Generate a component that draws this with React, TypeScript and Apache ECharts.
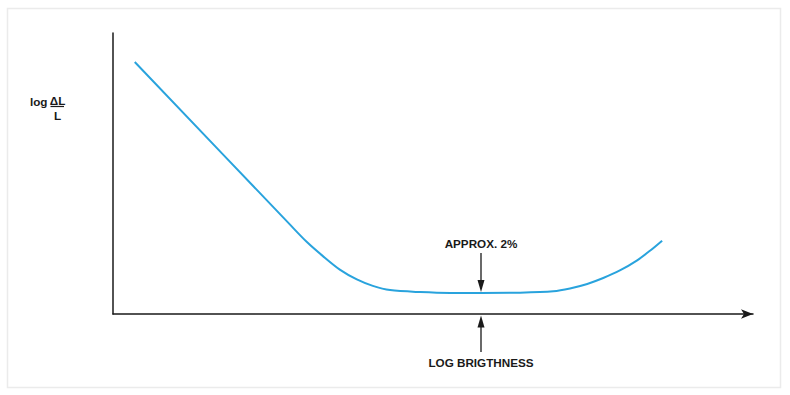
import React, { useEffect, useRef } from "react";
import * as echarts from "echarts";

// Curve (x: log brightness, y: log ΔL/L), arbitrary 0..100 units
const curveX = [3.4, 27.7, 30.3, 32.8, 35.5, 38.1, 40.6, 43.3, 48.0, 52.7, 57.5, 63.6, 68.8, 71.4, 74.1, 76.6, 79.2, 81.9, 83.9, 85.8];
const curveY = [89.7, 31.7, 25.6, 20.6, 15.7, 12.3, 10.0, 8.5, 7.8, 7.5, 7.5, 7.6, 8.1, 9.1, 10.7, 12.8, 15.5, 19.1, 22.5, 26.1];

const annotX = 57.5; // where both arrows point
const annotY = 7.5; // curve value at the minimum
const annotTopY = 21.7; // start of the "APPROX. 2%" arrow
const bottomArrowY = -13.5; // end of the lower arrow (below the axis)

const yLabelMain = "log";
const yLabelNum = "ΔL";
const yLabelDen = "L";
const minLabel = "APPROX. 2%";
const xLabel = "LOG BRIGTHNESS";

const FONT = "'Liberation Sans', Arial, Helvetica, sans-serif";
const INK = "#1a1a1a";

export default function App() {
  const ref = useRef<HTMLDivElement>(null);
  useEffect(() => {
    const chart = echarts.init(ref.current!, null, { renderer: "svg" });
    const data = curveX.map((x, i) => [x, curveY[i]]);
    chart.setOption({
      animation: false,
      grid: { left: 113, top: 33, right: 37, bottom: 81 },
      xAxis: {
        type: "value",
        min: 0,
        max: 100,
        axisLine: { show: true, symbol: ["none", "arrow"], symbolSize: [7, 12], lineStyle: { color: INK, width: 1.5 } },
        axisTick: { show: false },
        axisLabel: { show: false },
        splitLine: { show: false },
      },
      yAxis: {
        type: "value",
        min: 0,
        max: 100,
        axisLine: { show: true, lineStyle: { color: INK, width: 1.5 } },
        axisTick: { show: false },
        axisLabel: { show: false },
        splitLine: { show: false },
      },
      series: [
        {
          type: "line",
          data,
          smooth: 0.3,
          showSymbol: false,
          lineStyle: { color: "#29a3dd", width: 2 },
        },
      ],
    });

    const [ax, ay] = chart.convertToPixel({ gridIndex: 0 }, [annotX, annotY]) as number[];
    const [, aTop] = chart.convertToPixel({ gridIndex: 0 }, [annotX, annotTopY]) as number[];
    const [, axisY] = chart.convertToPixel({ gridIndex: 0 }, [annotX, 0]) as number[];
    const [, bBot] = chart.convertToPixel({ gridIndex: 0 }, [annotX, bottomArrowY]) as number[];
    const tipDown = ay - 1;
    const tipUp = axisY + 1.5;
    const textStyle = { fontFamily: FONT, fontWeight: "bold", fontSize: 11.7, fill: INK };

    chart.setOption({
      graphic: [
        { type: "rect", shape: { x: 7.5, y: 8.5, width: 773, height: 379 }, style: { fill: "none", stroke: "#ebebeb", lineWidth: 1.5 }, silent: true },
        // y-axis label log ΔL / L
        { type: "text", x: 47.5, y: 101, style: { ...textStyle, text: yLabelMain, align: "right", verticalAlign: "middle" } },
        { type: "text", x: 57.5, y: 100, style: { ...textStyle, text: yLabelNum, align: "center", verticalAlign: "middle" } },
        { type: "line", shape: { x1: 50.5, y1: 106.5, x2: 64, y2: 106.5 }, style: { stroke: INK, lineWidth: 1.2 } },
        { type: "text", x: 57.5, y: 115, style: { ...textStyle, text: yLabelDen, align: "center", verticalAlign: "middle" } },
        // APPROX. 2% arrow
        { type: "text", x: ax, y: 243.5, style: { ...textStyle, text: minLabel, align: "center", verticalAlign: "middle" } },
        { type: "line", shape: { x1: ax, y1: aTop, x2: ax, y2: tipDown - 8 }, style: { stroke: INK, lineWidth: 1.3 } },
        { type: "polygon", shape: { points: [[ax - 3.5, tipDown - 12], [ax + 3.5, tipDown - 12], [ax, tipDown]] }, style: { fill: INK } },
        // LOG BRIGTHNESS arrow
        { type: "line", shape: { x1: ax, y1: bBot, x2: ax, y2: tipUp + 8 }, style: { stroke: INK, lineWidth: 1.3 } },
        { type: "polygon", shape: { points: [[ax - 3.5, tipUp + 12], [ax + 3.5, tipUp + 12], [ax, tipUp]] }, style: { fill: INK } },
        { type: "text", x: ax, y: 362, style: { ...textStyle, text: xLabel, align: "center", verticalAlign: "middle" } },
      ],
    });
    return () => chart.dispose();
  }, []);
  return <div ref={ref} style={{ position: "absolute", left: 0, top: 0, width: 790, height: 395, background: "#fff" }} />;
}
